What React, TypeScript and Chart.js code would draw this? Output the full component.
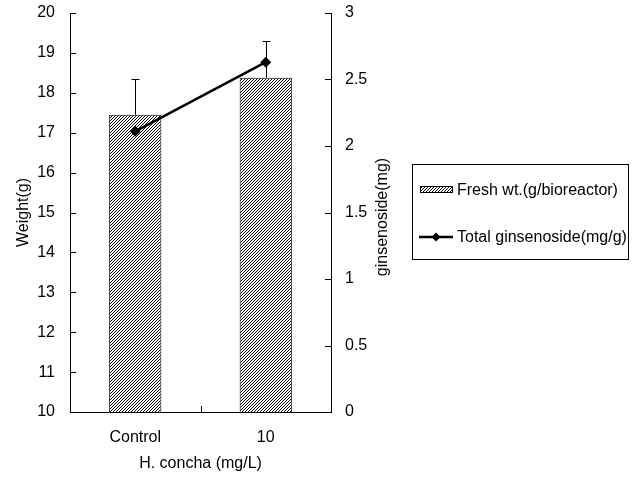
import React, { useEffect, useRef } from 'react';
import { Chart, registerables } from 'chart.js';

Chart.register(...registerables);

// ---- data ----
const categories = ['Control', '10'];
const freshWeight = [17.45, 18.38];
const freshWeightErr = [0.9, 0.93];
const ginsenoside = [2.11, 2.63];
const leftAxisRange = [10, 20];
const rightAxisRange = [0, 3];
const seriesLabels = ['Fresh wt.(g/bioreactor)', 'Total ginsenoside(mg/g)'];
const axisTitles = { x: 'H. concha (mg/L)', left: 'Weight(g)', right: 'ginsenoside(mg)' };

const FONT = 'Liberation Sans, Arial, sans-serif';
const FS = 16;

function makeHatch(ctx: CanvasRenderingContext2D): CanvasPattern | string {
  const P = 3;
  const c = document.createElement('canvas');
  c.width = P;
  c.height = P;
  const g = c.getContext('2d');
  if (!g) return '#888';
  g.fillStyle = '#fff';
  g.fillRect(0, 0, P, P);
  g.strokeStyle = '#000';
  g.lineWidth = 1;
  g.beginPath();
  g.moveTo(0, P); g.lineTo(P, 0);
  g.moveTo(-1, 1); g.lineTo(1, -1);
  g.moveTo(P - 1, P + 1); g.lineTo(P + 1, P - 1);
  g.stroke();
  return ctx.createPattern(c, 'repeat') || '#888';
}

const noPad = (s: any) => {
  s.paddingTop = 0;
  s.paddingBottom = 0;
  s.paddingLeft = 0;
  s.paddingRight = 0;
};

const decorPlugin = {
  id: 'decor',
  afterDatasetsDraw(chart: any) {
    const ctx = chart.ctx as CanvasRenderingContext2D;
    const ys = chart.scales.y;
    const meta = chart.getDatasetMeta(0);
    ctx.save();
    ctx.strokeStyle = '#000';
    ctx.lineWidth = 1;
    meta.data.forEach((bar: any, i: number) => {
      const px = Math.round(bar.x) + 0.5;
      const top = ys.getPixelForValue(freshWeight[i]);
      const end = ys.getPixelForValue(freshWeight[i] + freshWeightErr[i]);
      const ey = Math.round(end) + 0.5;
      ctx.beginPath();
      ctx.moveTo(px, top);
      ctx.lineTo(px, ey);
      ctx.moveTo(px - 4, ey);
      ctx.lineTo(px + 4, ey);
      ctx.stroke();
    });
    ctx.restore();
  },
  afterDraw(chart: any) {
    const ctx = chart.ctx as CanvasRenderingContext2D;
    const { x, y, y1 } = chart.scales;
    const area = chart.chartArea;
    ctx.save();
    ctx.strokeStyle = '#000';
    ctx.lineWidth = 1;
    ctx.beginPath();
    y.ticks.forEach((t: any) => {
      const py = Math.round(y.getPixelForValue(t.value)) + 0.5;
      ctx.moveTo(area.left, py);
      ctx.lineTo(area.left + 6, py);
    });
    y1.ticks.forEach((t: any) => {
      const py = Math.round(y1.getPixelForValue(t.value)) + 0.5;
      ctx.moveTo(area.right, py);
      ctx.lineTo(area.right - 6, py);
    });
    const n = categories.length;
    for (let i = 0; i <= n; i++) {
      let px: number;
      if (i === 0) px = area.left;
      else if (i === n) px = area.right;
      else px = (x.getPixelForValue(i - 1) + x.getPixelForValue(i)) / 2;
      px = Math.round(px) + 0.5;
      ctx.moveTo(px, area.bottom);
      ctx.lineTo(px, area.bottom - 6);
    }
    ctx.stroke();

    // right axis title (reads bottom-to-top)
    ctx.fillStyle = '#000';
    ctx.font = `${FS}px ${FONT}`;
    ctx.textAlign = 'center';
    ctx.textBaseline = 'middle';
    ctx.save();
    ctx.translate(383, 217);
    ctx.rotate(-Math.PI / 2);
    ctx.fillText(axisTitles.right, 0, 0);
    ctx.restore();

    // legend
    const bx = 412, by = 164, bw = 216, bh = 95;
    ctx.lineWidth = 1;
    ctx.strokeRect(bx + 0.5, by + 0.5, bw, bh);
    const ds0 = chart.data.datasets[0];
    const ds1 = chart.data.datasets[1];
    const r1 = 190, r2 = 237;
    ctx.fillStyle = ds0.backgroundColor;
    ctx.fillRect(420, r1 - 4, 33, 7);
    ctx.strokeRect(420.5, r1 - 3.5, 32, 6);
    ctx.strokeStyle = ds1.borderColor;
    ctx.lineWidth = 2.5;
    ctx.beginPath();
    ctx.moveTo(419, r2);
    ctx.lineTo(453, r2);
    ctx.stroke();
    ctx.fillStyle = '#000';
    ctx.beginPath();
    ctx.moveTo(436, r2 - 4.5);
    ctx.lineTo(440.5, r2);
    ctx.lineTo(436, r2 + 4.5);
    ctx.lineTo(431.5, r2);
    ctx.closePath();
    ctx.fill();
    ctx.textAlign = 'left';
    ctx.fillText(ds0.label, 457, r1 + 1);
    ctx.fillText(ds1.label, 457, r2 + 1);
    ctx.restore();
  },
};

export default function App() {
  const ref = useRef<HTMLCanvasElement | null>(null);
  useEffect(() => {
    document.body.style.margin = '0';
    const canvas = ref.current;
    if (!canvas) return;
    const ctx = canvas.getContext('2d');
    if (!ctx) return;
    const hatch = makeHatch(ctx);
    const chart = new Chart(ctx, {
      type: 'bar',
      data: {
        labels: categories,
        datasets: [
          {
            type: 'bar',
            label: seriesLabels[0],
            data: freshWeight,
            backgroundColor: hatch as any,
            borderColor: '#000',
            borderWidth: 1,
            borderSkipped: false,
            barPercentage: 0.4,
            categoryPercentage: 1.0,
            yAxisID: 'y',
            order: 2,
          },
          {
            type: 'line',
            label: seriesLabels[1],
            data: ginsenoside,
            borderColor: '#000',
            backgroundColor: '#000',
            borderWidth: 2.5,
            pointStyle: 'rectRot',
            pointRadius: 5.5,
            pointBackgroundColor: '#000',
            pointBorderWidth: 0,
            yAxisID: 'y1',
            order: 1,
          } as any,
        ],
      },
      options: {
        responsive: false,
        animation: false,
        devicePixelRatio: 1,
        layout: { padding: { left: 0, right: 263, top: 13, bottom: 0 } },
        plugins: {
          legend: { display: false },
          tooltip: { enabled: false },
        },
        font: { family: FONT, size: FS },
        scales: {
          x: {
            type: 'category',
            offset: true,
            grid: { display: false, drawTicks: false, offset: true },
            border: { display: true, color: '#000', width: 1 },
            ticks: { color: '#000', font: { family: FONT, size: FS }, padding: 16, maxRotation: 0 },
            title: {
              display: true,
              text: axisTitles.x,
              color: '#000',
              font: { family: FONT, size: FS },
              padding: { top: 0, bottom: 4 },
            },
            afterFit: (s: any) => { s.height = 65; noPad(s); },
          },
          y: {
            type: 'linear',
            position: 'left',
            min: leftAxisRange[0],
            max: leftAxisRange[1],
            grid: { display: false, drawTicks: false },
            border: { display: true, color: '#000', width: 1 },
            ticks: { stepSize: 1, color: '#000', font: { family: FONT, size: FS }, padding: 15 },
            title: {
              display: true,
              text: axisTitles.left,
              color: '#000',
              font: { family: FONT, size: FS },
              padding: { top: 14, bottom: 0 },
            },
            afterFit: (s: any) => { s.width = 70; noPad(s); },
          },
          y1: {
            type: 'linear',
            position: 'right',
            min: rightAxisRange[0],
            max: rightAxisRange[1],
            grid: { display: false, drawTicks: false },
            border: { display: true, color: '#000', width: 1 },
            ticks: {
              stepSize: 0.5,
              color: '#000',
              font: { family: FONT, size: FS },
              padding: 14,
              callback: (v: any) => String(v),
            },
            afterFit: (s: any) => { s.width = 40; noPad(s); },
          },
        },
      } as any,
      plugins: [decorPlugin],
    });
    return () => chart.destroy();
  }, []);
  return (
    <div style={{ position: 'absolute', left: 0, top: 0, width: 634, height: 477, background: '#fff' }}>
      <canvas ref={ref} width={634} height={477} style={{ display: 'block' }} />
    </div>
  );
}
